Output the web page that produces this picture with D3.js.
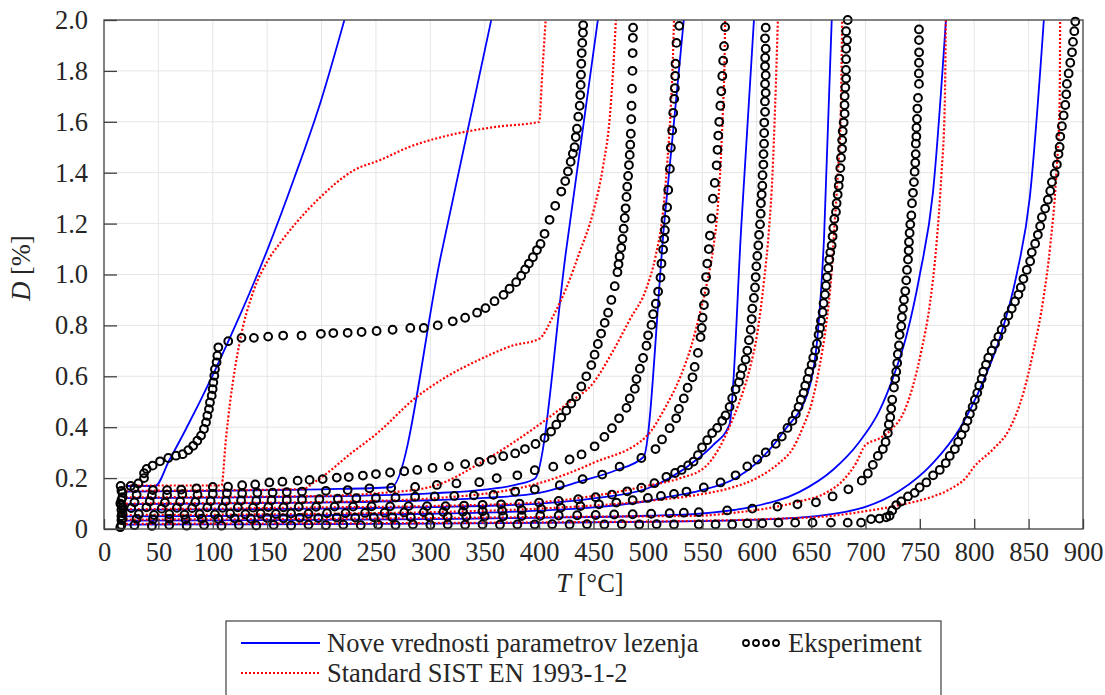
<!DOCTYPE html>
<html><head><meta charset="utf-8">
<script src="https://cdn.jsdelivr.net/npm/d3@7"></script>
<style>body{margin:0;background:#fff}svg{display:block}</style>
</head><body><svg id="c" width="1105" height="695"></svg>
<script>
const xTicks=[0,50,100,150,200,250,300,350,400,450,500,550,600,650,700,750,800,850,900];
const yTicks=[0,0.2,0.4,0.6,0.8,1.0,1.2,1.4,1.6,1.8,2.0];
const yTickLabels=["0","0.2","0.4","0.6","0.8","1.0","1.2","1.4","1.6","1.8","2.0"];
const legendLabels=["Nove vrednosti parametrov lezenja","Eksperiment","Standard SIST EN 1993-1-2"];

// Blue: model with new creep parameters
const model1=[[20,0.169],[47,0.169],[60,0.27],[75,0.39],[100,0.605],[125,0.84],[150,1.095],[175,1.38],[200,1.69],[221,2.0]];
const model2=[[20,0.147],[100,0.15],[200,0.156],[264,0.164],[310,1.08],[356,2.0]];
const model3=[[20,0.121],[100,0.123],[200,0.128],[300,0.14],[350,0.155],[380,0.175],[396,0.197],[425,1.1],[454,2.0]];
const model4=[[20,0.098],[100,0.1],[200,0.104],[300,0.113],[350,0.122],[400,0.142],[440,0.19],[470,0.23],[496,0.283],[515,1.2],[533,2.0]];
const model5=[[20,0.075],[100,0.077],[200,0.08],[300,0.086],[400,0.1],[450,0.12],[500,0.16],[520,0.2],[547,0.28],[560,0.33],[575,0.41],[586,1.2],[597.5,2.0]];
const model6=[[20,0.05],[100,0.051],[200,0.054],[300,0.06],[400,0.072],[450,0.085],[500,0.11],[520,0.127],[547,0.15],[581,0.2],[600,0.26],[626,0.39],[648,0.55],[656,0.76],[662,1.15],[669,2.0]];
const model7=[[20,0.033],[100,0.034],[200,0.036],[300,0.039],[400,0.044],[500,0.052],[547,0.06],[593,0.085],[639,0.145],[670,0.232],[694,0.34],[713,0.466],[725,0.59],[737.5,0.756],[750,1.0],[762,1.32],[774,2.0]];
const model8=[[20,0.017],[100,0.018],[200,0.019],[300,0.021],[400,0.024],[500,0.028],[547,0.031],[639,0.045],[700,0.087],[731,0.149],[762,0.259],[787,0.397],[808,0.577],[824,0.756],[839,1.0],[851,1.3],[864,2.0]];

// Red: EN 1993-1-2
const standard1=[[20,0.171],[108,0.171],[112,0.35],[116,0.5],[125,0.74],[137,0.93],[150,1.05],[163,1.13],[176,1.2],[198,1.3],[230,1.41],[254,1.45],[280,1.5],[315,1.545],[360,1.58],[400,1.6],[403,1.8],[406,2.0]];
const standard2=[[20,0.15],[100,0.152],[183,0.157],[192,0.18],[201,0.206],[225,0.29],[253,0.383],[284,0.507],[314,0.596],[345,0.665],[375,0.72],[400,0.747],[413,0.837],[425,0.947],[437,1.085],[450,1.25],[459,1.43],[465,1.62],[468,1.8],[470.6,2.0]];
const standard3=[[20,0.124],[100,0.126],[200,0.13],[250,0.14],[300,0.165],[350,0.27],[400,0.41],[425,0.49],[450,0.575],[468,0.7],[483,0.82],[499,0.95],[507,1.07],[514,1.25],[518,1.45],[521,1.65],[523,1.85],[524,2.0]];
const standard4=[[20,0.1],[100,0.102],[200,0.106],[300,0.12],[400,0.18],[450,0.26],[500,0.37],[515,0.47],[530,0.6],[540,0.72],[548,0.85],[555,0.98],[560,1.1],[564,1.25],[567,1.45],[569,1.65],[570.5,1.85],[571,2.0]];
const standard5=[[20,0.078],[100,0.08],[200,0.085],[300,0.09],[400,0.105],[450,0.13],[500,0.17],[530,0.2],[553,0.245],[565,0.314],[574.5,0.397],[583.7,0.494],[592.9,0.618],[600.6,0.77],[606.8,0.977],[611.4,1.18],[614.5,1.39],[617,1.666],[619.5,2.0]];
const standard6=[[20,0.055],[100,0.056],[200,0.06],[300,0.066],[400,0.08],[500,0.11],[546.8,0.135],[577.5,0.163],[600,0.2],[620.6,0.259],[632.9,0.314],[642.2,0.397],[651.4,0.508],[657.5,0.632],[663.7,0.797],[668.3,0.977],[671.4,1.18],[674.5,1.39],[677.5,1.666],[678.6,2.0]];
const standard7=[[20,0.037],[100,0.038],[200,0.04],[300,0.043],[400,0.047],[500,0.05],[546.8,0.052],[577.5,0.063],[608.3,0.08],[639,0.108],[663.7,0.142],[679.1,0.19],[691.4,0.259],[700,0.33],[712.9,0.356],[725.2,0.397],[734.5,0.452],[743.7,0.563],[751.4,0.7],[759.1,0.88],[765.2,1.114],[769.8,1.39],[772.9,1.666],[773.9,2.0]];
const standard8=[[20,0.02],[100,0.021],[200,0.022],[400,0.026],[546.8,0.032],[608.3,0.039],[669.8,0.052],[700,0.07],[731.4,0.094],[762.2,0.128],[777.5,0.156],[792.9,0.204],[800,0.245],[817.5,0.314],[832.9,0.397],[845.2,0.535],[854.5,0.701],[863.7,0.908],[869.9,1.114],[875.4,1.39],[878.5,1.666],[879,2.0]];

// Black circles: experiment
const exp1=[[15.3,0.169],[24.5,0.169],[31.6,0.179],[36.8,0.2],[36.8,0.219],[39.2,0.236],[44.7,0.249],[51.5,0.266],[59.1,0.279],[66.2,0.288],[72.3,0.294],[77.5,0.31],[82,0.327],[85.8,0.347],[89.2,0.367],[91.9,0.393],[93.8,0.419],[95,0.445],[96.5,0.471],[97.4,0.497],[99,0.524],[99.9,0.55],[100.5,0.576],[101.4,0.602],[102,0.628],[103.5,0.655],[104.2,0.681],[105.1,0.714],[114.2,0.738],[126.4,0.751],[137.8,0.751],[150.9,0.756],[164.7,0.76],[181.6,0.76],[199.4,0.767],[210.8,0.77],[224,0.771],[236.8,0.774],[250.6,0.778],[265.3,0.783],[281.6,0.79],[293.9,0.79],[306.8,0.8],[320.6,0.816],[332,0.83],[343,0.85],[350.7,0.868],[359,0.895],[367.3,0.92],[372.8,0.944],[378.9,0.97],[383.5,0.995],[387.2,1.02],[390.6,1.043],[394.3,1.068],[398,1.096],[401.3,1.12],[405,1.16],[409.6,1.215],[414.8,1.27],[420.4,1.326],[424,1.367],[426.5,1.405],[429,1.443],[431,1.475],[432.6,1.5],[433.7,1.54],[434.8,1.573],[436,1.62],[437.3,1.663],[437.8,1.705],[438.2,1.745],[438.5,1.785],[438.8,1.828],[439.2,1.87],[439.7,1.91],[440.3,1.95],[440.5,1.98]];
const exp2=[[16,0.15],[17,0.142],[28,0.16],[45,0.153],[58,0.153],[71,0.155],[85,0.16],[100,0.165],[114,0.166],[127,0.172],[139,0.175],[152,0.183],[164,0.186],[178,0.19],[189,0.193],[201,0.196],[214,0.202],[225,0.204],[238,0.21],[250,0.216],[263,0.222],[276,0.227],[288,0.232],[302,0.24],[317,0.246],[332,0.255],[345,0.264],[356.5,0.272],[367,0.286],[378,0.297],[387,0.314],[396.7,0.334],[405,0.358],[411,0.383],[415.8,0.41],[420.4,0.438],[425,0.465],[429.6,0.493],[434,0.52],[438.8,0.56],[443.4,0.6],[448,0.644],[451,0.685],[454,0.727],[457,0.768],[460.3,0.81],[463.4,0.85],[466.4,0.9],[469.5,0.954],[472,1.009],[473,1.04],[474,1.071],[475.5,1.105],[476.6,1.14],[477.7,1.18],[478.7,1.222],[479.5,1.26],[480.3,1.305],[481,1.345],[481.8,1.387],[482.6,1.43],[483.3,1.47],[483.8,1.51],[484.3,1.553],[484.7,1.61],[485,1.663],[485.4,1.73],[485.8,1.8],[486,1.87],[486.2,1.93],[486.4,1.97]];
const exp3=[[17,0.125],[16,0.114],[30,0.135],[44,0.132],[58,0.135],[72,0.137],[86,0.135],[100,0.138],[113,0.14],[127,0.14],[141,0.142],[155,0.143],[168,0.145],[182,0.147],[204,0.15],[224,0.153],[244,0.16],[264,0.162],[286,0.165],[306,0.173],[324,0.179],[345,0.184],[361,0.2],[380,0.211],[396,0.231],[413,0.245],[428,0.273],[439,0.293],[451,0.325],[460,0.362],[467,0.396],[473.5,0.435],[480.3,0.476],[483.3,0.513],[488,0.551],[489.5,0.589],[492.6,0.63],[495.6,0.672],[498.7,0.72],[500.2,0.761],[503.3,0.802],[504.8,0.844],[507.3,0.885],[509.4,0.933],[511.6,0.988],[512.5,1.043],[514,1.098],[515,1.14],[515.6,1.174],[516.2,1.215],[517.7,1.264],[518.7,1.332],[520.2,1.415],[521.1,1.498],[522.3,1.566],[523.3,1.635],[524.2,1.69],[524.8,1.732],[525.1,1.78],[525.4,1.828],[526.3,1.91],[528.8,1.977]];
const exp4=[[15,0.1],[16,0.093],[28,0.105],[42,0.108],[56,0.104],[70,0.108],[84,0.106],[98,0.11],[112,0.11],[126,0.112],[140,0.111],[154,0.113],[168,0.114],[182,0.116],[198,0.117],[215,0.119],[232,0.121],[250,0.122],[268,0.124],[286,0.127],[304,0.128],[322,0.13],[340,0.132],[358,0.134],[378,0.147],[396,0.156],[419,0.172],[440,0.196],[458,0.214],[474,0.245],[494,0.279],[507,0.314],[513,0.352],[520,0.396],[526,0.435],[528.5,0.472],[533,0.513],[536.5,0.555],[541,0.596],[543,0.637],[546,0.692],[548.4,0.754],[549.5,0.79],[550.3,0.83],[551.5,0.88],[552.4,0.933],[553.5,0.99],[554.6,1.043],[556,1.1],[557,1.153],[558.5,1.22],[559.8,1.298],[561.5,1.36],[563.2,1.429],[564,1.49],[564.7,1.546],[565.6,1.6],[566.6,1.663],[567.5,1.72],[568.4,1.78],[569.2,1.84],[570,1.897],[571,1.972]];
const exp5=[[17,0.085],[16,0.075],[25,0.082],[39,0.085],[53,0.08],[67,0.083],[81,0.082],[95,0.085],[109,0.083],[123,0.085],[137,0.084],[151,0.086],[165,0.085],[179,0.087],[195,0.087],[212,0.088],[229,0.088],[246,0.089],[263,0.089],[280,0.09],[297,0.09],[314,0.09],[331,0.092],[348,0.095],[365,0.097],[382,0.1],[400,0.104],[418,0.11],[436,0.117],[452,0.125],[467,0.135],[481,0.148],[494,0.162],[506,0.18],[517,0.205],[525,0.22],[531,0.232],[537,0.25],[542,0.265],[546,0.29],[549.8,0.321],[554.5,0.349],[559.1,0.377],[563.7,0.397],[568.3,0.425],[571.4,0.446],[575.1,0.48],[577.5,0.514],[580.6,0.549],[583.7,0.577],[585.2,0.604],[586.8,0.632],[589.8,0.666],[591.4,0.701],[592.9,0.742],[594.5,0.783],[595.4,0.825],[596,0.866],[597.5,0.908],[598.5,0.949],[599.1,0.99],[599.7,1.032],[600.6,1.073],[601.5,1.114],[602.2,1.156],[603.1,1.197],[603.7,1.239],[603.9,1.28],[604.6,1.314],[605.2,1.349],[605.4,1.39],[606.2,1.432],[606.3,1.473],[606.8,1.514],[606.9,1.556],[607,1.597],[607.7,1.639],[607.6,1.68],[608.3,1.714],[607.7,1.749],[608.3,1.783],[607.7,1.818],[607.8,1.852],[608.3,1.887],[607.7,1.928],[608.3,1.97]];
const exp6=[[17,0.062],[16,0.051],[32,0.058],[46,0.055],[60,0.058],[74,0.056],[88,0.058],[102,0.057],[116,0.06],[130,0.058],[144,0.06],[158,0.059],[172,0.061],[188,0.06],[205,0.062],[222,0.062],[240,0.063],[258,0.064],[276,0.065],[294,0.066],[312,0.067],[330,0.068],[348,0.07],[366,0.072],[384,0.075],[402,0.079],[420,0.084],[438,0.09],[455,0.097],[471,0.104],[486,0.113],[500,0.122],[512,0.13],[524,0.138],[535.5,0.147],[551.4,0.163],[566.8,0.183],[580.6,0.211],[591.4,0.246],[600.6,0.273],[608.3,0.301],[617.5,0.335],[623.1,0.363],[628.3,0.397],[632.9,0.425],[636,0.452],[638.5,0.48],[640.6,0.508],[643.1,0.535],[644.6,0.563],[646.8,0.59],[648.3,0.618],[650.5,0.646],[652,0.673],[653.8,0.701],[655.4,0.728],[656.9,0.763],[658.2,0.79],[659.1,0.818],[660.6,0.852],[661.5,0.887],[662.8,0.921],[663.7,0.956],[664.6,0.99],[665.8,1.025],[666.8,1.059],[667.7,1.087],[668.9,1.114],[669.8,1.149],[670.5,1.183],[671.4,1.218],[672.9,1.246],[673.5,1.28],[674.5,1.314],[675.4,1.349],[676,1.377],[676.9,1.418],[677.5,1.459],[678.5,1.494],[678.6,1.528],[679.1,1.563],[680,1.597],[680.9,1.632],[680.8,1.666],[680.9,1.701],[681.5,1.735],[682.2,1.77],[682.1,1.804],[682.2,1.846],[682.3,1.887],[683.1,1.921],[682.2,1.956],[683.7,2.0]];
const exp7=[[17,0.04],[16,0.035],[30,0.04],[45,0.038],[60,0.04],[75,0.038],[90,0.041],[105,0.04],[120,0.042],[135,0.041],[150,0.043],[165,0.042],[180,0.044],[197,0.043],[214,0.045],[231,0.045],[248,0.046],[265,0.046],[282,0.047],[299,0.047],[316,0.048],[333,0.049],[350,0.05],[367,0.05],[384,0.051],[401,0.052],[418,0.053],[435,0.054],[452,0.055],[469,0.057],[486,0.058],[503,0.06],[520,0.062],[533,0.064],[546.8,0.066],[572.9,0.073],[596,0.08],[619.1,0.088],[637.5,0.097],[654.5,0.105],[669.8,0.128],[684.3,0.156],[696.6,0.19],[702.2,0.218],[706.8,0.252],[711.4,0.287],[716,0.314],[718.5,0.342],[720.6,0.377],[721.5,0.411],[722.8,0.439],[723.7,0.473],[724.6,0.508],[726.2,0.556],[727.4,0.59],[728.3,0.618],[729.2,0.652],[729.8,0.687],[730.8,0.721],[731.4,0.763],[732.9,0.797],[733.5,0.832],[734.5,0.866],[735.4,0.901],[736.6,0.935],[737.5,0.977],[738.2,1.018],[739.1,1.059],[739.7,1.094],[740,1.128],[740.6,1.163],[741.2,1.197],[742.2,1.232],[742.8,1.28],[743.7,1.321],[744.6,1.363],[745.2,1.404],[745.8,1.439],[746.2,1.473],[746.3,1.514],[746.8,1.542],[746.9,1.577],[747.4,1.611],[747.7,1.652],[748.3,1.694],[749.2,1.749],[749.1,1.79],[749.2,1.832],[749.3,1.873],[749.2,1.921],[749.2,1.963]];
const exp8=[[16,0.016],[15,0.007],[28,0.015],[44,0.012],[60,0.016],[76,0.013],[92,0.016],[108,0.013],[124,0.016],[140,0.014],[156,0.016],[172,0.014],[188,0.017],[204,0.015],[220,0.017],[236,0.015],[252,0.017],[268,0.016],[284,0.018],[300,0.016],[316,0.018],[332,0.017],[348,0.018],[364,0.017],[380,0.018],[396,0.018],[412,0.019],[428,0.018],[444,0.019],[460,0.018],[476,0.019],[492,0.018],[508,0.019],[524,0.018],[546.8,0.018],[562.2,0.018],[577.5,0.018],[591.4,0.022],[605.2,0.022],[620,0.025],[635.4,0.025],[651.4,0.025],[668.3,0.025],[683.7,0.025],[696,0.025],[705.2,0.039],[712.9,0.041],[719.1,0.046],[722.2,0.052],[724.6,0.073],[728.3,0.094],[732.9,0.108],[739.1,0.128],[745.2,0.142],[749.8,0.163],[756,0.183],[762.2,0.211],[768.3,0.232],[773.8,0.259],[777.5,0.287],[782.2,0.314],[785.2,0.342],[788.3,0.37],[791.4,0.397],[793.8,0.425],[796,0.452],[798.5,0.48],[800.6,0.508],[802.8,0.535],[804.6,0.563],[806.8,0.59],[808.3,0.618],[810.8,0.646],[812.9,0.673],[816,0.701],[819.1,0.728],[822.2,0.756],[825.2,0.783],[828.3,0.811],[831.4,0.839],[834.5,0.866],[837.5,0.894],[840.6,0.921],[842.8,0.949],[845.2,0.983],[848.3,1.018],[851.4,1.052],[852.9,1.087],[856,1.121],[858.5,1.156],[860.6,1.19],[862.2,1.225],[865.2,1.259],[867.7,1.294],[869.9,1.328],[871.4,1.363],[873.9,1.397],[876,1.432],[877.5,1.473],[878.5,1.501],[879.1,1.542],[880.6,1.583],[882.2,1.625],[883.7,1.666],[884.6,1.708],[885.2,1.749],[886.8,1.79],[888.3,1.832],[889.9,1.873],[890.8,1.914],[892,1.956],[892.9,1.994]];

const models=[model1,model2,model3,model4,model5,model6,model7,model8];
const standards=[standard1,standard2,standard3,standard4,standard5,standard6,standard7,standard8];
const experiments=[exp1,exp2,exp3,exp4,exp5,exp6,exp7,exp8];

const svg=d3.select('#c');
const W=1105,H=695;
const x=d3.scaleLinear().domain([0,900]).range([104,1083]);
const y=d3.scaleLinear().domain([0,2]).range([529,20]);
const FONT='Liberation Serif, Times New Roman, serif';
const FS=26.5;
const TXT='#262626';

svg.append('rect').attr('width',W).attr('height',H).attr('fill','#fff');

// grid
const grid=svg.append('g').attr('stroke','#e6e6e6').attr('stroke-width',1);
grid.selectAll('.gx').data(xTicks.slice(1,-1)).join('line')
  .attr('x1',d=>x(d)).attr('x2',d=>x(d)).attr('y1',y(0)).attr('y2',y(2));
grid.selectAll('.gy').data(yTicks.slice(1,-1)).join('line')
  .attr('y1',d=>y(d)).attr('y2',d=>y(d)).attr('x1',x(0)).attr('x2',x(900));

svg.append('clipPath').attr('id','clip').append('rect')
  .attr('x',x(0)).attr('y',y(2)).attr('width',x(900)-x(0)).attr('height',y(0)-y(2));

const line=d3.line().x(d=>x(d[0])).y(d=>y(d[1])).curve(d3.curveMonotoneX);
const plot=svg.append('g').attr('clip-path','url(#clip)');

plot.selectAll('.model').data(models).join('path')
  .attr('d',line).attr('fill','none').attr('stroke','#0000ff').attr('stroke-width',1.8);

svg.append('g').selectAll('g').data(experiments).join('g')
  .selectAll('circle').data(d=>d).join('circle')
  .attr('cx',d=>x(d[0])).attr('cy',d=>y(d[1])).attr('r',3.9)
  .attr('fill','none').attr('stroke','#000').attr('stroke-width',2);

plot.selectAll('.std').data(standards).join('path')
  .attr('d',line).attr('fill','none').attr('stroke','#ff0000').attr('stroke-width',2.2)
  .attr('stroke-dasharray','2,2');

// axes
const xa=svg.append('g').attr('transform',`translate(0,${y(0)})`)
  .call(d3.axisBottom(x).tickValues(xTicks).tickSize(-10).tickPadding(13).tickFormat(d=>String(d)));
const ya=svg.append('g').attr('transform',`translate(${x(0)},0)`)
  .call(d3.axisLeft(y).tickValues(yTicks).tickSize(-13).tickPadding(16).tickFormat((d,i)=>yTickLabels[i]));
[xa,ya].forEach(a=>{
  a.attr('font-family',FONT).attr('font-size',FS);
  a.select('.domain').remove();
  a.selectAll('line').attr('stroke','#404040').attr('stroke-width',1.3);
  a.selectAll('text').attr('font-family',FONT).attr('font-size',FS).attr('fill',TXT);
});
svg.append('rect').attr('x',x(0)).attr('y',y(2)).attr('width',x(900)-x(0)).attr('height',y(0)-y(2))
  .attr('fill','none').attr('stroke','#404040').attr('stroke-width',1.3);

// axis labels
const xl=svg.append('text').attr('x',590).attr('y',592).attr('text-anchor','middle')
  .attr('font-family',FONT).attr('font-size',FS).attr('fill',TXT);
xl.append('tspan').attr('font-style','italic').text('T');
xl.append('tspan').text(' [°C]');
const yl=svg.append('text').attr('transform','translate(30,268) rotate(-90)').attr('text-anchor','middle')
  .attr('font-family',FONT).attr('font-size',FS).attr('fill',TXT);
yl.append('tspan').attr('font-style','italic').text('D');
yl.append('tspan').text(' [%]');

// legend
const lg=svg.append('g');
lg.append('rect').attr('x',226).attr('y',621).attr('width',715).attr('height',110)
  .attr('fill','#fff').attr('stroke','#404040').attr('stroke-width',1.2);
lg.append('line').attr('x1',241).attr('x2',320).attr('y1',643).attr('y2',643)
  .attr('stroke','#0000ff').attr('stroke-width',1.8);
lg.append('line').attr('x1',241).attr('x2',320).attr('y1',673).attr('y2',673)
  .attr('stroke','#ff0000').attr('stroke-width',2.2).attr('stroke-dasharray','2,2');
lg.selectAll('.lc').data([0,1,2,3]).join('circle')
  .attr('cx',d=>746+d*10).attr('cy',643).attr('r',3).attr('fill','none')
  .attr('stroke','#000').attr('stroke-width',1.8);
const lt=[[327,652,legendLabels[0]],[788,652,legendLabels[1]],[327,682,legendLabels[2]]];
lg.selectAll('.lt').data(lt).join('text')
  .attr('x',d=>d[0]).attr('y',d=>d[1]).text(d=>d[2])
  .attr('font-family',FONT).attr('font-size',FS).attr('fill',TXT);
</script></body></html>
